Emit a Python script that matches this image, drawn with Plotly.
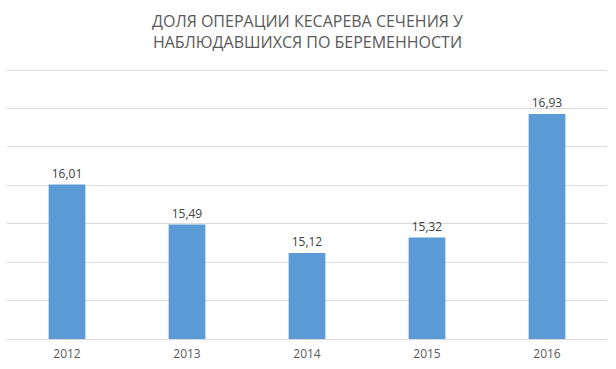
import plotly.graph_objects as go

years = ["2012", "2013", "2014", "2015", "2016"]
values = [16.01, 15.49, 15.12, 15.32, 16.93]
label_texts = [f"{v:.2f}".replace(".", ",") for v in values]
title_text = "ДОЛЯ ОПЕРАЦИИ КЕСАРЕВА СЕЧЕНИЯ У<br>НАБЛЮДАВШИХСЯ ПО БЕРЕМЕННОСТИ"

fig = go.Figure(
    go.Bar(
        x=years,
        y=values,
        text=label_texts,
        marker=dict(color="#5B9BD5", line=dict(width=0)),
        textposition="outside",
        textfont=dict(family="Open Sans", size=12, color="#404040"),
        cliponaxis=False,
    )
)

fig.update_layout(
    width=616,
    height=369,
    margin=dict(l=7, r=9, t=69, b=28),
    paper_bgcolor="white",
    plot_bgcolor="white",
    bargap=0.694,
    showlegend=False,
    xaxis=dict(
        type="category",
        showgrid=False,
        showline=True,
        linecolor="#D9D9D9",
        linewidth=1,
        ticks="",
        ticklabelstandoff=4,
        tickfont=dict(family="Open Sans", size=12, color="#595959"),
    ),
    yaxis=dict(
        range=[14, 17.515],
        dtick=0.5,
        tick0=14,
        showticklabels=False,
        showgrid=True,
        gridcolor="#D9D9D9",
        gridwidth=1,
        zeroline=False,
        showline=False,
    ),
    annotations=[
        dict(
            text=title_text,
            xref="paper",
            yref="paper",
            x=0.5,
            y=1 + 38 / 272,
            xanchor="center",
            yanchor="middle",
            showarrow=False,
            font=dict(family="Open Sans", size=16, color="#595959"),
        )
    ],
)

fig.write_html(
    "out.html",
    config={"displayModeBar": False},
    post_script="document.body.style.margin='0';",
)
